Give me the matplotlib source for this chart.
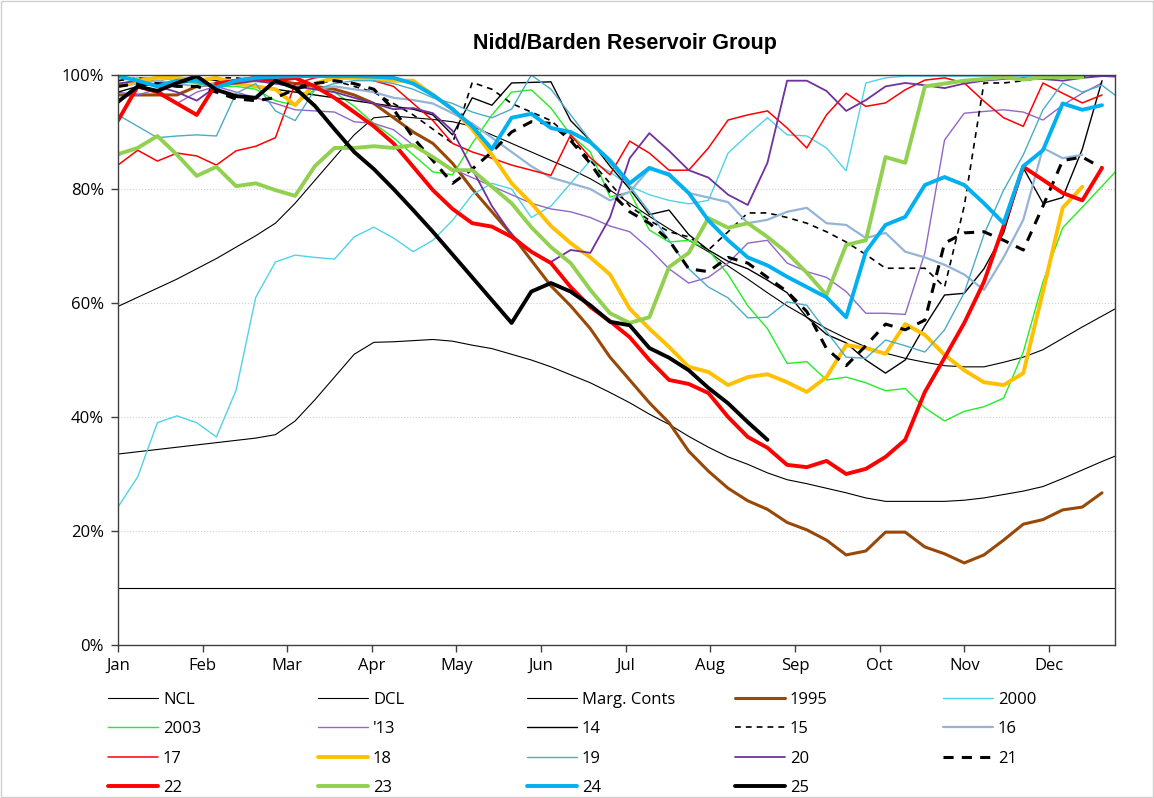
import numpy as np
import matplotlib.pyplot as plt
from matplotlib.patches import Rectangle

nan = np.nan

months = ['Jan', 'Feb', 'Mar', 'Apr', 'May', 'Jun',
          'Jul', 'Aug', 'Sep', 'Oct', 'Nov', 'Dec']

# weekly reservoir stock, % full (week 0 = start of Jan)
ncl = [59.4, 61.0, 62.6, 64.2, 66.0, 67.8, 69.8, 71.8, 74.0, 77.5,
       81.5, 85.5, 89.5, 92.5, 92.8, 92.5, 92.2, 91.8, 91.0, 89.5,
       88.0, 86.5, 85.0, 83.5, 81.8, 79.8, 77.5, 75.2, 73.0, 71.0,
       69.0, 66.5, 64.2, 61.8, 59.5, 57.5, 55.5, 53.8, 52.3, 51.2,
       50.3, 49.6, 49.0, 48.8, 48.8, 49.6, 50.5, 51.8, 53.8, 55.8,
       57.7, 59.6]
dcl = [33.5, 33.9, 34.3, 34.7, 35.1, 35.5, 35.9, 36.3, 36.9, 39.3,
       43.0, 47.0, 51.0, 53.1, 53.2, 53.4, 53.6, 53.3, 52.6, 52.0,
       51.0, 50.0, 48.8, 47.4, 46.0, 44.3, 42.5, 40.5, 38.7, 36.6,
       34.7, 33.0, 31.7, 30.2, 29.0, 28.3, 27.5, 26.7, 25.8, 25.2,
       25.2, 25.2, 25.2, 25.4, 25.8, 26.4, 27.0, 27.8, 29.2, 30.7,
       32.2, 33.6]
marg_conts = [10.0] * 52
y1995 = [96.5, 96.5, 96.5, 96.5, 98.0, 98.5, 99.0, 99.0, 99.0, 98.5,
         98.0, 97.5, 96.5, 95.0, 92.5, 90.0, 88.0, 84.5, 80.0, 76.0,
         72.0, 67.5, 63.0, 59.5, 55.5, 50.5, 46.5, 42.5, 39.0, 34.0,
         30.5, 27.5, 25.3, 23.8, 21.5, 20.2, 18.4, 15.8, 16.5, 19.8,
         19.8, 17.2, 16.0, 14.4, 15.8, 18.4, 21.2, 22.0, 23.7, 24.2,
         26.7, nan]
y2000 = [24.2, 29.5, 39.0, 40.2, 39.0, 36.5, 44.7, 61.0, 67.2, 68.4,
         68.0, 67.7, 71.6, 73.3, 71.4, 69.0, 71.0, 74.5, 79.0, 81.0,
         80.0, 75.0, 77.0, 81.0, 85.0, 83.0, 80.5, 79.0, 78.0, 77.4,
         78.0, 86.3, 89.5, 92.5, 89.5, 89.3, 87.2, 83.2, 98.6, 99.5,
         99.8, 99.8, 99.8, 99.8, 99.8, 99.8, 99.8, 99.5, 99.8, 99.8,
         99.8, 99.5]
y2003 = [99.0, 99.5, 99.5, 99.0, 98.5, 98.0, 98.0, 97.5, 95.5, 94.7,
         97.5, 97.0, 94.5, 91.5, 89.0, 86.0, 83.0, 82.5, 88.0, 93.0,
         97.0, 97.4, 94.2, 89.5, 86.5, 78.6, 79.5, 72.8, 70.7, 71.0,
         69.3, 65.0, 59.5, 55.5, 49.4, 49.7, 46.5, 47.0, 46.0, 44.6,
         45.0, 41.6, 39.3, 41.0, 41.8, 43.3, 51.4, 63.7, 73.2, 76.8,
         80.5, 84.2]
y2013 = [97.0, 96.5, 97.5, 95.0, 97.0, 98.0, 97.0, 96.0, 95.0, 93.9,
         93.7, 93.5, 91.8, 91.5, 90.4, 87.7, 85.5, 83.5, 82.0, 80.5,
         79.0, 77.5, 76.5, 76.0, 75.0, 73.5, 72.5, 69.5, 66.0, 63.5,
         64.5, 67.0, 70.5, 71.0, 67.0, 65.5, 64.5, 62.0, 58.2, 58.2,
         58.0, 68.8, 88.6, 93.3, 93.6, 93.9, 93.5, 92.1, 94.7, 96.8,
         98.6, nan]
y2014 = [97.0, 98.0, 98.5, 99.0, 99.5, 99.0, 98.5, 98.0, 97.5, 97.0,
         96.5, 96.0, 95.5, 95.0, 94.5, 94.0, 93.0, 89.5, 96.0, 94.7,
         98.6, 98.7, 98.8, 92.0, 88.5, 84.0, 80.0, 75.5, 76.3, 72.0,
         69.3, 67.3, 66.0, 64.0, 61.8, 57.5, 54.5, 53.0, 50.0, 47.7,
         50.0, 56.0, 61.4, 61.7, 66.0, 72.3, 83.7, 77.5, 78.5, 87.0,
         99.0, nan]
y2015 = [99.0, 99.5, 99.0, 98.5, 99.0, 99.5, 99.5, 99.0, 98.5, 98.0,
         98.5, 99.0, 98.0, 97.0, 95.0, 93.0, 90.5, 88.0, 98.7, 97.5,
         95.0, 93.5, 92.0, 89.0, 85.0, 81.0, 77.0, 74.5, 72.5, 71.6,
         69.3, 72.5, 75.8, 75.8, 75.0, 74.0, 72.5, 70.7, 68.5, 66.1,
         66.1, 66.1, 62.8, 77.0, 98.6, 98.6, 99.0, 99.5, 99.5, 99.8,
         99.8, nan]
y2016 = [98.0, 98.5, 99.0, 98.5, 98.0, 98.5, 99.0, 99.0, 98.5, 98.0,
         97.5, 98.0, 97.5, 97.0, 96.0, 95.6, 95.0, 93.3, 91.5, 89.0,
         86.5, 84.0, 82.0, 81.0, 80.0, 78.0, 79.5, 83.5, 82.8, 79.3,
         78.5, 77.7, 74.0, 74.6, 76.0, 76.7, 74.0, 73.7, 71.4, 72.3,
         69.0, 68.0, 66.7, 65.0, 62.3, 68.0, 74.6, 87.2, 85.4, 86.0,
         nan, nan]
y2017 = [84.2, 86.8, 84.9, 86.3, 85.8, 84.2, 86.7, 87.5, 89.0, 98.5,
         99.5, 100.0, 99.5, 99.0, 98.0, 95.0, 92.0, 88.0, 86.5, 85.4,
         84.2, 83.3, 82.4, 89.5, 85.5, 82.5, 88.4, 86.3, 83.3, 83.3,
         87.2, 92.1, 93.0, 93.7, 90.7, 87.2, 93.0, 96.8, 94.5, 95.1,
         97.4, 99.1, 99.5, 98.6, 95.4, 92.5, 91.0, 98.6, 96.8, 95.1,
         96.5, nan]
y2018 = [98.0, 99.0, 99.5, 99.5, 99.0, 99.5, 98.5, 98.0, 97.5, 94.7,
         98.5, 99.5, 99.5, 99.3, 99.0, 99.0, 96.5, 94.0, 90.5, 86.0,
         81.0, 77.5, 73.5, 70.5, 68.0, 65.0, 59.0, 55.5, 52.3, 48.8,
         47.9, 45.6, 47.0, 47.5, 46.1, 44.4, 47.0, 52.6, 52.1, 51.1,
         56.3, 54.4, 50.9, 48.2, 46.1, 45.6, 47.7, 62.0, 76.7, 80.4,
         nan, nan]
y2019 = [93.0, 91.0, 89.0, 89.3, 89.5, 89.3, 96.8, 98.5, 93.7, 92.0,
         97.4, 98.5, 99.0, 99.0, 98.5, 97.5, 96.0, 95.0, 93.5, 92.5,
         94.0, 100.0, 97.5, 93.0, 88.5, 84.5, 80.5, 76.0, 71.0, 66.0,
         62.8, 60.9, 57.4, 57.5, 60.2, 59.6, 55.0, 50.5, 50.3, 53.5,
         52.5, 51.4, 55.3, 61.8, 72.0, 79.8, 86.0, 93.9, 98.6, 97.0,
         98.2, 95.6]
y2020 = [98.5, 99.0, 98.0, 97.0, 95.5, 98.0, 98.5, 99.0, 98.5, 98.0,
         97.5, 97.0, 96.0, 95.0, 94.0, 94.2, 93.3, 90.2, 83.5, 77.0,
         72.0, 69.0, 67.2, 69.3, 68.8, 75.0, 85.4, 89.8, 86.7, 83.3,
         82.0, 79.0, 77.2, 84.6, 99.0, 99.0, 97.2, 93.7, 95.6, 98.0,
         98.6, 98.2, 97.7, 98.5, 99.0, 99.3, 99.5, 99.3, 99.0, 99.5,
         99.8, 99.8]
y2021 = [98.0, 98.5, 98.5, 98.0, 98.0, 97.0, 95.8, 95.5, 96.0, 97.5,
         98.5, 99.0, 98.5, 97.5, 94.0, 89.0, 85.0, 81.0, 83.5, 86.5,
         90.0, 91.8, 91.5, 88.5, 84.5, 79.5, 76.0, 74.0, 71.0, 66.0,
         65.5, 68.0, 67.0, 64.5, 62.0, 58.5, 52.0, 49.0, 52.5, 56.3,
         55.3, 57.0, 70.5, 72.3, 72.5, 71.0, 69.3, 77.0, 85.0, 85.6,
         83.7, nan]
y2022 = [92.0, 98.0, 97.0, 95.0, 93.0, 98.5, 99.0, 99.5, 99.0, 99.5,
         98.0, 96.0, 93.5, 91.0, 88.0, 83.9, 79.8, 76.5, 74.0, 73.4,
         71.6, 69.0, 67.0, 62.8, 59.3, 56.8, 54.0, 50.0, 46.5, 45.8,
         44.2, 40.0, 36.5, 34.6, 31.6, 31.2, 32.3, 30.0, 30.9, 33.0,
         36.0, 44.4, 50.4, 56.5, 63.7, 73.5, 83.9, 81.6, 79.3, 78.0,
         83.7, nan]
y2023 = [86.1, 87.2, 89.3, 86.0, 82.3, 83.9, 80.5, 81.0, 79.8, 78.8,
         84.0, 87.2, 87.2, 87.5, 87.2, 87.7, 85.6, 83.3, 83.3, 80.4,
         77.5, 73.3, 69.8, 67.0, 62.3, 58.2, 56.5, 57.5, 66.3, 68.8,
         74.9, 73.2, 74.0, 71.6, 68.8, 65.3, 61.4, 70.2, 71.0, 85.6,
         84.6, 98.0, 98.5, 99.0, 99.3, 99.6, 99.2, 99.6, 99.6, 99.6,
         nan, nan]
y2024 = [99.8, 99.0, 98.0, 99.0, 99.0, 97.8, 99.0, 99.5, 99.7, 99.8,
         99.8, 99.8, 99.8, 99.7, 99.5, 98.5, 96.5, 94.0, 91.0, 87.0,
         92.5, 93.2, 90.7, 90.0, 88.2, 85.0, 81.0, 83.7, 82.5, 79.3,
         74.5, 71.0, 68.0, 66.6, 64.6, 62.8, 61.0, 57.5, 69.0, 73.7,
         75.1, 80.7, 82.1, 80.7, 77.5, 74.0, 84.0, 86.8, 95.0, 93.9,
         94.7, nan]
y2025 = [95.3, 98.0, 97.2, 98.6, 99.8, 97.4, 96.3, 96.0, 99.0, 97.7,
         94.6, 90.5, 86.5, 83.5, 80.0, 76.3, 72.5, 68.5, 64.5, 60.5,
         56.5, 62.0, 63.5, 62.0, 59.6, 56.7, 56.1, 52.1, 50.4, 48.2,
         45.1, 42.4, 39.1, 36.0] + [nan] * 18

# label, values, colour, width (pt), dash pattern
series = [
    ('NCL', ncl, 'black', 0.8, None),
    ('DCL', dcl, 'black', 0.8, None),
    ('Marg. Conts', marg_conts, 'black', 0.8, None),
    ('1995', y1995, '#984807', 2.2, None),
    ('2000', y2000, '#4fd3e6', 1.0, None),
    ('2003', y2003, '#22ee22', 1.0, None),
    ("'13", y2013, '#9166c8', 1.0, None),
    ('14', y2014, 'black', 1.0, None),
    ('15', y2015, 'black', 1.2, (3.5, 3)),
    ('16', y2016, '#95b3d7', 1.6, None),
    ('17', y2017, '#ff0000', 1.1, None),
    ('18', y2018, '#ffc000', 2.8, None),
    ('19', y2019, '#4bacc6', 1.0, None),
    ('20', y2020, '#7030a0', 1.3, None),
    ('21', y2021, 'black', 2.2, (3.3, 2.7)),
    ('22', y2022, '#ff0000', 2.8, None),
    ('23', y2023, '#92d050', 2.8, None),
    ('24', y2024, '#00b0f0', 2.8, None),
    ('25', y2025, 'black', 2.8, None),
]

plt.rcParams['font.family'] = ['Open Sans', 'DejaVu Sans']

fig = plt.figure(figsize=(11.54, 7.98), dpi=100)
fig.patches.append(Rectangle((0.001, 0.001), 0.998, 0.998, transform=fig.transFigure,
                             fill=False, edgecolor='#d0d0d0', lw=1))
ax = fig.add_axes([118 / 1154, 1 - 645 / 798, 997 / 1154, 570 / 798])

weeks = np.arange(52)
handles = {}
for label, vals, color, lw, dash in series:
    line, = ax.plot(weeks, vals, color=color, lw=lw, label=label,
                    solid_joinstyle='round', solid_capstyle='round')
    if dash:
        line.set_dashes(dash)
    handles[label] = line

ax.set_xlim(0, 50.66)
ax.set_ylim(0, 100)
ax.set_xticks(np.arange(12) * 4.3)
ax.set_xticklabels(months)
ax.set_yticks(np.arange(0, 101, 20))
ax.set_yticklabels(['%d%%' % v for v in range(0, 101, 20)])
ax.tick_params(labelsize=12, length=5, width=1, color='#404040', direction='out')
ax.tick_params(axis='x', pad=4)
ax.tick_params(axis='y', pad=5)
ax.grid(axis='y', color='#d0d0d0', ls=':', lw=0.8)
ax.set_axisbelow(True)
for s in ax.spines.values():
    s.set_color('#404040')
    s.set_linewidth(1)

fig.text(625 / 1154, 1 - 43 / 798, 'Nidd/Barden Reservoir Group', ha='center', va='center',
         fontsize=15.5, fontweight='bold', family='Liberation Sans')

# legend laid out row by row, one legend per column
rows = [['NCL', 'DCL', 'Marg. Conts', '1995', '2000'],
        ['2003', "'13", '14', '15', '16'],
        ['17', '18', '19', '20', '21'],
        ['22', '23', '24', '25']]
col_x = [108, 318, 527, 735, 943]
for c, x in enumerate(col_x):
    labels = [r[c] for r in rows if c < len(r)]
    fig.legend([handles[l] for l in labels], labels, loc='upper left',
               bbox_to_anchor=(x / 1154, 1 - 692 / 798), frameon=False,
               fontsize=12, handlelength=3.0, handletextpad=0.3,
               labelspacing=0.8, borderpad=0, borderaxespad=0)

fig.savefig('out.png', dpi=100)
